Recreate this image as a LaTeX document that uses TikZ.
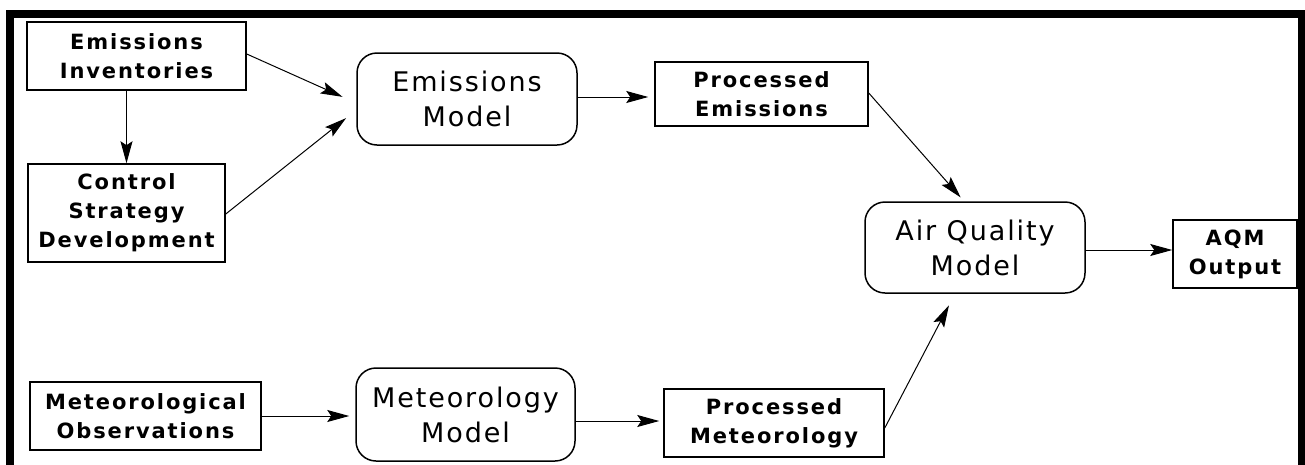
\documentclass[tikz,border=0pt]{standalone}
\usepackage{fontspec}
\setmainfont{DejaVu Sans}
\newfontfamily\boxfont{DejaVu Sans}[LetterSpace=9]
\newfontfamily\modelfont{DejaVu Sans}[LetterSpace=7]
\usetikzlibrary{arrows.meta,positioning}

\begin{document}
\begin{tikzpicture}[x=1pt,y=-1pt,
infobox/.style={draw,line width=1.5pt,inner sep=0pt,align=center,font=\boxfont\bfseries\fontsize{21pt}{29pt}\selectfont},
modelbox/.style={draw,line width=1.5pt,rounded corners=20pt,inner sep=0pt,align=center,font=\modelfont\fontsize{27pt}{35pt}\selectfont},
arr/.style={-{Stealth[length=22pt,width=12pt,inset=4pt]},line width=1pt}]
\useasboundingbox (0,0) rectangle (1305,464);
% frame
\draw[line width=8pt] (10,470) -- (10,13.5) -- (1301.5,13.5) -- (1301.5,470);

\node[infobox,minimum width=219pt,minimum height=68pt] (inv) at (136.5,56) {Emissions\\Inventories};
\node[infobox,minimum width=197pt,minimum height=98pt] (ctrl) at (126.5,213) {Control\\Strategy\\Development};
\node[infobox,minimum width=231pt,minimum height=68pt] (obs) at (145.5,416) {Meteorological\\Observations};
\node[modelbox,minimum width=220pt,minimum height=92pt] (emis) at (467,99) {Emissions\\Model};
\node[modelbox,minimum width=219pt,minimum height=93pt] (met) at (465.5,414.5) {Meteorology\\Model};
\node[infobox,minimum width=213pt,minimum height=64pt] (pemis) at (761.5,94) {Processed\\Emissions};
\node[infobox,minimum width=220pt,minimum height=68pt] (pmet) at (774,423) {Processed\\Meteorology};
\node[modelbox,minimum width=220pt,minimum height=91pt] (aqm) at (975,247.5) {Air Quality\\Model};
\node[infobox,minimum width=124pt,minimum height=68pt] (out) at (1235,254) {AQM\\Output};

\draw[arr] (inv.south -| ctrl.north) -- (ctrl.north);
\draw[arr,shorten >=15pt] ([yshift=2pt]inv.east) -- ([yshift=-4pt]emis.west);
\draw[arr,shorten >=13pt] ([yshift=-1pt]ctrl.east) -- ([yshift=-11pt]emis.west);
\draw[arr,shorten >=6pt] ([yshift=2pt]emis.east) -- ([yshift=2pt]emis.east -| pemis.west);
\draw[arr,shorten >=5pt] ([yshift=1pt]pemis.east) -- ([xshift=-11pt]aqm.north);
\draw[arr] ([yshift=-2.5pt]aqm.east) -- ([yshift=-2.5pt]aqm.east -| out.west);
\draw[arr,shorten >=6pt] (obs.east) -- (obs.east -| met.west);
\draw[arr,shorten >=4pt] ([yshift=-6.5pt]met.east) -- ([yshift=-6.5pt]met.east -| pmet.west);
\draw[arr,shorten >=13pt] ([yshift=-5pt]pmet.east) -- ([xshift=-20pt]aqm.south);
\end{tikzpicture}
\end{document}
